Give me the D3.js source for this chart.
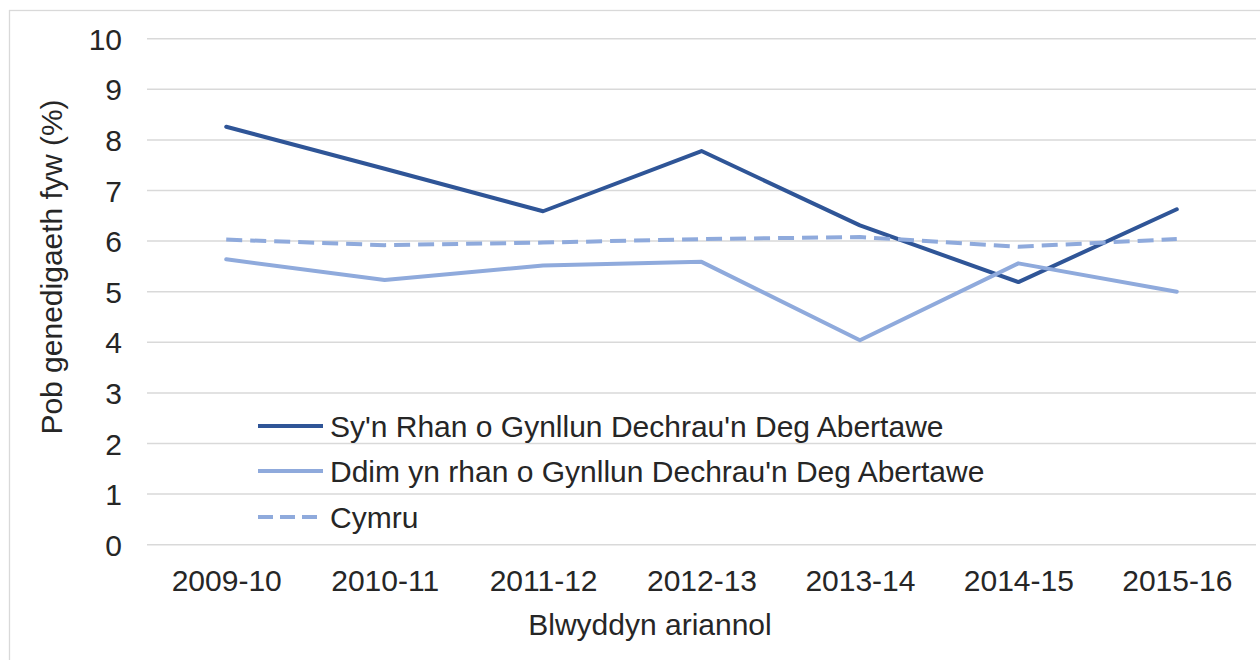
<!DOCTYPE html>
<html>
<head>
<meta charset="utf-8">
<script src="https://cdn.jsdelivr.net/npm/d3@7"></script>
<style>
  html, body { margin: 0; padding: 0; background: #fff; }
  svg { display: block; }
  text { font-family: "Liberation Sans", Arial, sans-serif; fill: #262626; }
</style>
</head>
<body>
<svg id="chart" width="1260" height="660"></svg>
<script>
const categories = ["2009-10", "2010-11", "2011-12", "2012-13", "2013-14", "2014-15", "2015-16"];
const seriesNames = [
  "Sy'n Rhan o Gynllun Dechrau'n Deg Abertawe",
  "Ddim yn rhan o Gynllun Dechrau'n Deg Abertawe",
  "Cymru"
];
const flyingStartValues = [8.26, 7.43, 6.59, 7.78, 6.31, 5.19, 6.63];
const notFlyingStartValues = [5.64, 5.23, 5.52, 5.59, 4.04, 5.56, 5.0];
const walesValues = [6.03, 5.92, 5.97, 6.04, 6.08, 5.89, 6.04];
const yTicks = [0, 1, 2, 3, 4, 5, 6, 7, 8, 9, 10];
const yTitle = "Pob genedigaeth fyw (%)";
const xTitle = "Blwyddyn ariannol";

const svg = d3.select("#chart");
const plot = { left: 147, right: 1256, top: 38.7, bottom: 544.7 };
const FS = 30;

// outer frame
svg.append("rect").attr("x", 9.5).attr("y", 10.5).attr("width", 1270).attr("height", 700)
  .attr("fill", "#fff").attr("stroke", "#D9D9D9").attr("stroke-width", 1.3);

const x = d3.scalePoint().domain(categories).range([plot.left, plot.right]).padding(0.5);
const y = d3.scaleLinear().domain([0, 10]).range([plot.bottom, plot.top]);

// gridlines
svg.append("g").selectAll("line").data(yTicks).join("line")
  .attr("x1", plot.left).attr("x2", plot.right)
  .attr("y1", d => y(d)).attr("y2", d => y(d))
  .attr("stroke", "#D9D9D9").attr("stroke-width", 1.5);

// y axis labels
const yAxis = d3.axisLeft(y).tickValues(yTicks).tickSize(0).tickPadding(0).tickFormat(d3.format("d"));
const yg = svg.append("g").attr("transform", `translate(122,0)`).call(yAxis);
yg.select(".domain").remove();
yg.selectAll("text").attr("font-size", FS).attr("font-family", "Liberation Sans, Arial, sans-serif")
  .attr("fill", "#262626").attr("dy", "0.35em");

// x axis labels
const xAxis = d3.axisBottom(x).tickSize(0).tickPadding(0);
const xg = svg.append("g").attr("transform", `translate(0,${plot.bottom})`).call(xAxis);
xg.select(".domain").remove();
xg.selectAll("text").attr("font-size", FS).attr("font-family", "Liberation Sans, Arial, sans-serif")
  .attr("fill", "#262626").attr("y", 46).attr("dy", 0);

// axis titles
svg.append("text").attr("x", 650).attr("y", 635)
  .attr("text-anchor", "middle").attr("font-size", FS).text(xTitle);
svg.append("text").attr("transform", `translate(62,${267}) rotate(-90)`)
  .attr("text-anchor", "middle").attr("font-size", FS).text(yTitle);

// series
const series = [
  { name: seriesNames[0], values: flyingStartValues, color: "#2F5597", dash: null },
  { name: seriesNames[1], values: notFlyingStartValues, color: "#8FAADC", dash: null },
  { name: seriesNames[2], values: walesValues, color: "#8FAADC", dash: "16,8" }
];
const line = d3.line().x((d, i) => x(categories[i])).y(d => y(d));

svg.append("g").selectAll("path").data(series).join("path")
  .attr("d", d => line(d.values))
  .attr("fill", "none")
  .attr("stroke", d => d.color)
  .attr("stroke-width", 4)
  .attr("stroke-linejoin", "round")
  .attr("stroke-linecap", d => d.dash ? "butt" : "round")
  .attr("stroke-dasharray", d => d.dash);

// legend
const legendY = [426, 471, 517];
const lg = svg.append("g").selectAll("g").data(series).join("g")
  .attr("transform", (d, i) => `translate(258,${legendY[i]})`);
lg.append("line").attr("x1", 0).attr("x2", 65).attr("y1", 0).attr("y2", 0)
  .attr("stroke", d => d.color).attr("stroke-width", 4)
  .attr("stroke-dasharray", d => d.dash ? "15,7" : null);
lg.append("text").attr("x", 72).attr("y", 0).attr("dy", "0.35em")
  .attr("font-size", FS).text(d => d.name);
</script>
</body>
</html>
